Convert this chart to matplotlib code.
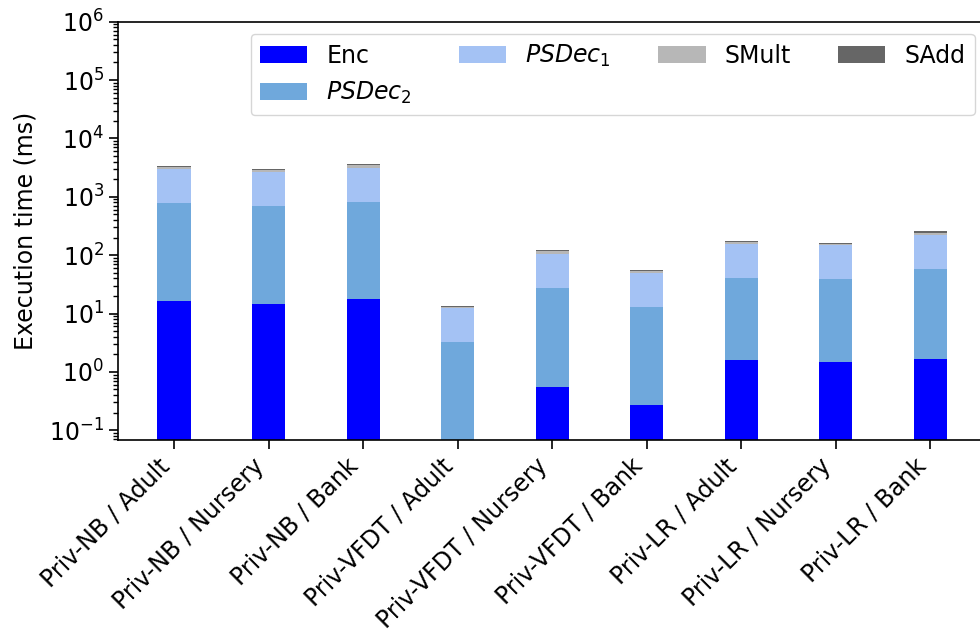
import matplotlib
matplotlib.use("Agg")
import matplotlib.pyplot as plt
import numpy as np

categories = ["Priv-NB / Adult", "Priv-NB / Nursery", "Priv-NB / Bank",
              "Priv-VFDT / Adult", "Priv-VFDT / Nursery", "Priv-VFDT / Bank",
              "Priv-LR / Adult", "Priv-LR / Nursery", "Priv-LR / Bank"]
enc = [16.2, 14.4, 17.5, 0.05, 0.56, 0.266, 1.57, 1.46, 1.64]
psdec2 = [760, 676, 790, 3.15, 26.4, 12.5, 38.4, 37.0, 55.7]
psdec1 = [2164, 1980, 2328, 9.2, 76.6, 36.1, 115.6, 111.1, 161.7]
smult = [245, 190, 350, 0.7, 13, 4.1, 10.4, 8.4, 24]
sadd = [165, 110, 135, 0.5, 4.4, 2.0, 7.0, 6.0, 14]

series = [("Enc", enc, "#0000ff"),
          (r"$PSDec_2$", psdec2, "#6fa8dc"),
          (r"$PSDec_1$", psdec1, "#a4c2f4"),
          ("SMult", smult, "#b7b7b7"),
          ("SAdd", sadd, "#666666")]

FS = 17
fig = plt.figure(figsize=(9.8, 6.36), dpi=100)
ax = fig.add_axes([118/980, (636-440)/636, (986.5-118)/980, (440-21.7)/636])

x = np.arange(len(categories))
bottom = np.zeros(len(categories))
for label, vals, color in series:
    v = np.array(vals, dtype=float)
    ax.bar(x, v, 0.35, bottom=bottom, color=color, label=label)
    bottom = bottom + v

ax.set_yscale("log")
ax.set_ylim(0.068, 1e6)
ax.set_xticks(x)
ax.set_xticklabels(categories, rotation=45, ha="right", fontsize=FS)
ax.tick_params(axis="both", which="major", labelsize=FS, length=6.5, width=1.2)
ax.tick_params(axis="both", which="minor", length=3.6, width=1.0)
for s in ax.spines.values():
    s.set_linewidth(1.2)
ax.set_ylabel("Execution time (ms)", fontsize=FS, labelpad=8)
ax.legend(loc="upper right", ncol=4, fontsize=FS)

fig.savefig("out.png", dpi=100)
